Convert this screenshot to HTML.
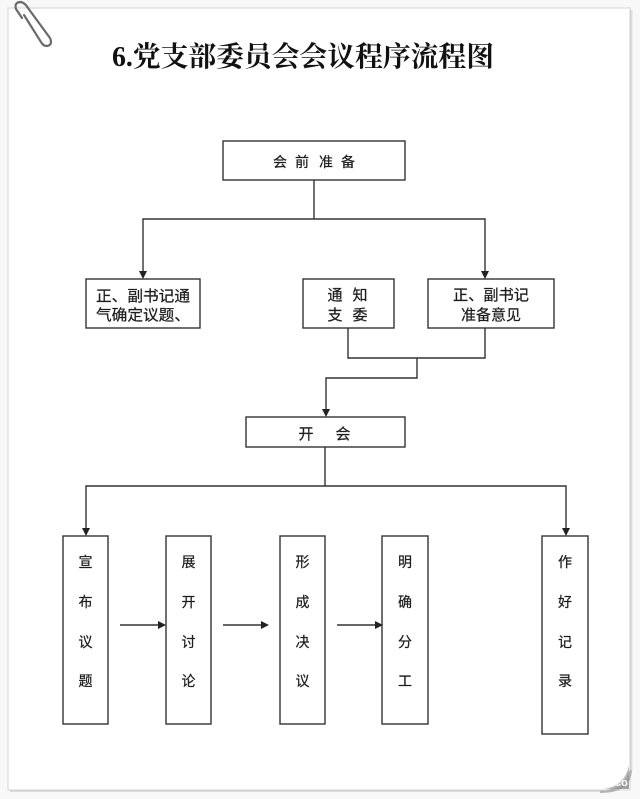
<!DOCTYPE html>
<html><head><meta charset="utf-8">
<style>
html,body{margin:0;padding:0;background:#f7f7f7;}
svg{display:block;}
.t{font-family:"Liberation Sans","Noto Sans CJK SC",sans-serif;font-size:15px;fill:#1e1e1e;stroke:#1e1e1e;stroke-width:0.25;}
.s{font-family:"Liberation Sans","Noto Sans CJK SC",sans-serif;font-size:14px;fill:#1e1e1e;stroke:#1e1e1e;stroke-width:0.25;}
</style></head>
<body>
<svg width="640" height="799" viewBox="0 0 640 799" xmlns="http://www.w3.org/2000/svg">
<defs>
<linearGradient id="rs" x1="0" x2="1" y1="0" y2="0">
<stop offset="0" stop-color="#c8c8c8"/><stop offset="1" stop-color="#f4f4f4"/>
</linearGradient>
<radialGradient id="curl" cx="0.2" cy="0.2" r="0.9">
<stop offset="0" stop-color="#ffffff"/><stop offset="0.6" stop-color="#d0d0d0"/><stop offset="1" stop-color="#8a8a8a"/>
</radialGradient>
</defs>
<rect x="0" y="0" width="640" height="799" fill="#f8f8f8"/>
<!-- paper -->
<rect x="8" y="8" width="622" height="782" fill="#ffffff" stroke="#dadada" stroke-width="1.2"/>
<rect x="630" y="10" width="3" height="760" fill="url(#rs)"/>
<line x1="10" y1="791" x2="605" y2="791" stroke="#cfcfcf" stroke-width="1.5"/>
<path d="M600 791 Q622 790 630 770 L632 770 Q631 793 600 793 Z" fill="#9a9a9a" opacity="0.7"/>
<path d="M604 789 Q624 786 629 766 L629 789 Z" fill="url(#curl)" opacity="0.8"/>
<text x="615" y="786" font-family="Liberation Sans,sans-serif" font-size="11" font-weight="bold" fill="#ffffff">co</text>
<!-- paper clip -->
<path d="M22 18 L16 9 Q14 2 21 2 Q25 3 28 8 L50 38 Q53 45 47 46 Q43 46 41 42 L24 15" fill="none" stroke="#6a6a6a" stroke-width="2.2" stroke-linecap="round"/>

<!-- title -->
<text x="112" y="66" textLength="382" lengthAdjust="spacingAndGlyphs" font-family="Liberation Serif,'Noto Serif CJK SC',serif" font-weight="bold" font-size="28" fill="#111">6.党支部委员会会议程序流程图</text>

<g fill="none" stroke="#333" stroke-width="1.4">
<rect x="223" y="141" width="182" height="39"/>
<rect x="86" y="279" width="114" height="49"/>
<rect x="303" y="279" width="91" height="49"/>
<rect x="428" y="279" width="126" height="49"/>
<rect x="246" y="417" width="159" height="30"/>
<rect x="63" y="536" width="45" height="188"/>
<rect x="166" y="536" width="45" height="188"/>
<rect x="280" y="536" width="45" height="188"/>
<rect x="382" y="536" width="46" height="188"/>
<rect x="542" y="536" width="46" height="198"/>
<!-- connectors -->
<polyline points="314,180 314,219"/>
<polyline points="143,271 143,219 485,219 485,271"/>
<polyline points="348,328 348,358 485,358 485,328"/>
<polyline points="417,358 417,378 326,378 326,409"/>
<polyline points="325,447 325,486"/>
<polyline points="86,528 86,486 566,486 566,528"/>
<line x1="120" y1="625" x2="158" y2="625"/>
<line x1="223" y1="625" x2="261" y2="625"/>
<line x1="337" y1="625" x2="375" y2="625"/>
</g>
<g fill="#222">
<polygon points="139,271 147,271 143,279"/>
<polygon points="481,271 489,271 485,279"/>
<polygon points="322,409 330,409 326,417"/>
<polygon points="82,528 90,528 86,536"/>
<polygon points="562,528 570,528 566,536"/>
<polygon points="158,621 158,629 166,625"/>
<polygon points="261,621 261,629 269,625"/>
<polygon points="375,621 375,629 383,625"/>
</g>

<!-- texts -->
<g class="s" text-anchor="middle">
<text x="280" y="167">会</text><text x="302" y="167">前</text><text x="326" y="167">准</text><text x="348" y="167">备</text>
</g>
<g class="t" text-anchor="middle">
<text x="143" y="301" textLength="94" lengthAdjust="spacingAndGlyphs">正、副书记通</text>
<text x="143" y="320" textLength="94" lengthAdjust="spacingAndGlyphs">气确定议题、</text>
<text x="335" y="300">通</text><text x="360" y="300">知</text>
<text x="335" y="320">支</text><text x="360" y="320">委</text>
<text x="491" y="300" textLength="76" lengthAdjust="spacingAndGlyphs">正、副书记</text>
<text x="491" y="320" textLength="60" lengthAdjust="spacingAndGlyphs">准备意见</text>
<text x="306" y="439">开</text><text x="343" y="439">会</text>
</g>
<g class="s" text-anchor="middle">
<text x="85.5" y="567">宣</text><text x="85.5" y="607">布</text><text x="85.5" y="647">议</text><text x="85.5" y="686">题</text>
<text x="188.5" y="567">展</text><text x="188.5" y="607">开</text><text x="188.5" y="647">讨</text><text x="188.5" y="686">论</text>
<text x="302.5" y="567">形</text><text x="302.5" y="607">成</text><text x="302.5" y="647">决</text><text x="302.5" y="686">议</text>
<text x="405" y="567">明</text><text x="405" y="607">确</text><text x="405" y="647">分</text><text x="405" y="686">工</text>
<text x="565" y="567">作</text><text x="565" y="607">好</text><text x="565" y="647">记</text><text x="565" y="686">录</text>
</g>
</svg>
</body></html>
